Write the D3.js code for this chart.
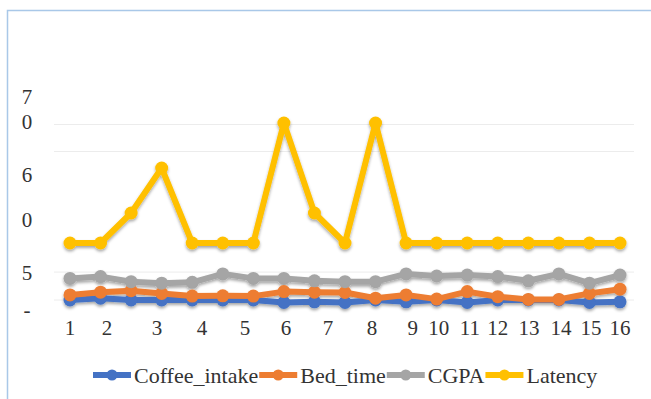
<!DOCTYPE html>
<html>
<head>
<meta charset="utf-8">
<script src="https://cdn.jsdelivr.net/npm/d3@7"></script>
<style>
  body { margin: 0; background: #fff; }
</style>
</head>
<body>
<div id="chart"></div>
<script>
let width = 651,
height = 399;
const font = "'Liberation Serif', 'Times New Roman', serif";

// 19 points along x, only 16 labels (as in the source image)
const coffee  = [1, 1.6, 1, 1, 1, 1, 1, 0.2, 0.4, 0.2, 1, 0.4, 1, 0.2, 1, 1, 1, 0.2, 0.4];
const bedTime = [2.7, 3.6, 4.1, 3.2, 2.3, 2.4, 2.3, 3.8, 3.6, 3.5, 1.6, 2.7, 1.3, 3.8, 2.1, 1.2, 1.2, 3.2, 4.6];
const cgpa    = [8.2, 8.8, 7.1, 6.6, 6.9, 9.7, 8.2, 8.2, 7.4, 7.1, 7.1, 9.7, 9, 9.3, 8.8, 7.4, 9.7, 6.6, 9.3];
const latency = [20, 20, 30, 45, 20, 20, 20, 60, 30, 20, 60, 20, 20, 20, 20, 20, 20, 20, 20];

const xLabels   = ["1","2","3","4","5","6","7","8","9","10","11","12","13","14","15","16"];
const xLabelPos = [0, 1.21, 2.85, 4.32, 5.73, 7.07, 8.44, 9.88, 11.22, 12.07, 13.09, 14.0, 15.02, 16.07, 17.05, 18];

// wrapped y labels as they appear
const yLabels = [
  {text: "7", v: 68.7}, {text: "0", v: 60.3},
  {text: "6", v: 42.7}, {text: "0", v: 27.7},
  {text: "5", v: 10.2}, {text: "-", v: -2.3}
];
const gridValues = [59.5, 50.5, 10.3, 1];

const series = [
  {name: "Coffee_intake", values: coffee,  color: "#4472C4"},
  {name: "Bed_time",      values: bedTime, color: "#ED7D31"},
  {name: "CGPA",          values: cgpa,    color: "#A5A5A5"},
  {name: "Latency",       values: latency, color: "#FFC000"}
];

let svg = d3.select("#chart")
  .append("svg")
  .attr("width", width)
  .attr("height", height);

let defs = svg.append("defs");
defs.append("filter")
  .attr("id", "shadow")
  .attr("x", "-10%").attr("y", "-30%").attr("width", "120%").attr("height", "160%")
  .append("feDropShadow")
  .attr("dx", 0).attr("dy", 2)
  .attr("stdDeviation", 1.5)
  .attr("flood-color", "#000")
  .attr("flood-opacity", 0.35);

// frame
svg.append("rect")
  .attr("x", 7.5).attr("y", 10.5)
  .attr("width", 700).attr("height", 500)
  .attr("fill", "none")
  .attr("stroke", "#a9c8e8")
  .attr("stroke-width", 1.5);

let x = d3.scaleLinear().domain([0, 18]).range([70, 620]);
let y = d3.scaleLinear().domain([0, 60]).range([303, 123]);

// gridlines
svg.append("g")
  .selectAll("line")
  .data(gridValues)
  .join("line")
  .attr("x1", 54).attr("x2", 634)
  .attr("y1", d => y(d)).attr("y2", d => y(d))
  .attr("stroke", "#ececec")
  .attr("stroke-width", 1);

// y labels
svg.append("g")
  .selectAll("text")
  .data(yLabels)
  .join("text")
  .attr("x", 27)
  .attr("y", d => y(d.v))
  .attr("dy", "0.35em")
  .attr("text-anchor", "middle")
  .attr("font-family", font)
  .attr("font-size", 21)
  .attr("fill", "#333")
  .text(d => d.text);

// x labels
svg.append("g")
  .selectAll("text")
  .data(xLabels)
  .join("text")
  .attr("x", (d, i) => x(xLabelPos[i]))
  .attr("y", 328)
  .attr("dy", "0.35em")
  .attr("text-anchor", "middle")
  .attr("font-family", font)
  .attr("font-size", 21)
  .attr("fill", "#333")
  .text(d => d);

let line = d3.line()
  .x((d, i) => x(i))
  .y(d => y(d));

let g = svg.append("g").attr("filter", "url(#shadow)");

series.forEach(s => {
  let sg = g.append("g");
  sg.append("path")
    .attr("d", line(s.values))
    .attr("fill", "none")
    .attr("stroke", s.color)
    .attr("stroke-width", 6)
    .attr("stroke-linejoin", "round");
  sg.selectAll("circle")
    .data(s.values)
    .join("circle")
    .attr("cx", (d, i) => x(i))
    .attr("cy", d => y(d))
    .attr("r", 6.5)
    .attr("fill", s.color);
});

// legend
let legend = svg.append("g").attr("transform", "translate(93, 375)");
let lx = 0;
series.forEach(s => {
  let item = legend.append("g").attr("transform", `translate(${lx},0)`);
  item.append("line")
    .attr("x1", 0).attr("x2", 38)
    .attr("stroke", s.color)
    .attr("stroke-width", 6);
  item.append("circle")
    .attr("cx", 19).attr("r", 5.5)
    .attr("fill", s.color);
  let t = item.append("text")
    .attr("x", 41)
    .attr("dy", "0.35em")
    .attr("font-family", font)
    .attr("font-size", 22)
    .attr("fill", "#333")
    .text(s.name);
  lx += 41 + t.node().getComputedTextLength() + 1;
});
</script>
</body>
</html>
